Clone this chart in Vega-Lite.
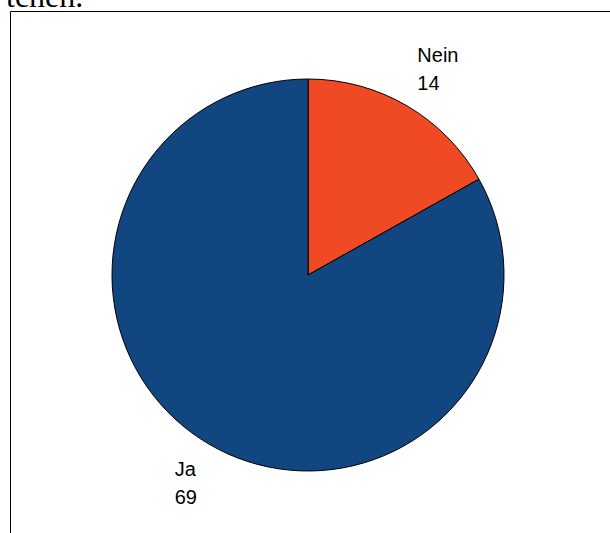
{
  "$schema": "https://vega.github.io/schema/vega-lite/v6.json",
  "width": 620,
  "height": 528,
  "autosize": "none",
  "padding": {"left": 10, "top": 11, "right": 0, "bottom": 0},
  "view": {"stroke": "black", "strokeWidth": 1},
  "title": {
    "text": "tchen.",
    "anchor": "start",
    "frame": "group",
    "font": "Liberation Serif",
    "fontSize": 32,
    "fontWeight": "normal",
    "color": "black",
    "baseline": "top",
    "dx": -4,
    "offset": -3
  },
  "data": {
    "values": [
      {"answer": "Nein", "count": 14},
      {"answer": "Ja", "count": 69}
    ]
  },
  "encoding": {
    "theta": {"field": "count", "type": "quantitative", "stack": true},
    "order": {"field": "answer", "sort": "descending"}
  },
  "layer": [
    {
      "mark": {"type": "arc", "outerRadius": 196, "stroke": "black", "strokeWidth": 1, "xOffset": -12},
      "encoding": {
        "color": {
          "field": "answer",
          "type": "nominal",
          "scale": {"domain": ["Nein", "Ja"], "range": ["#EF4A24", "#124681"]},
          "legend": null
        }
      }
    },
    {
      "mark": {"type": "text", "radius": 240, "align": "left", "baseline": "alphabetic", "xOffset": -12, "dx": -12, "dy": -6, "font": "Liberation Sans", "fontSize": 20, "color": "black"},
      "encoding": {"text": {"field": "answer", "type": "nominal"}}
    },
    {
      "mark": {"type": "text", "radius": 240, "align": "left", "baseline": "alphabetic", "xOffset": -12, "dx": -12, "dy": 22, "font": "Liberation Sans", "fontSize": 20, "color": "black"},
      "encoding": {"text": {"field": "count", "type": "quantitative"}}
    }
  ]
}
